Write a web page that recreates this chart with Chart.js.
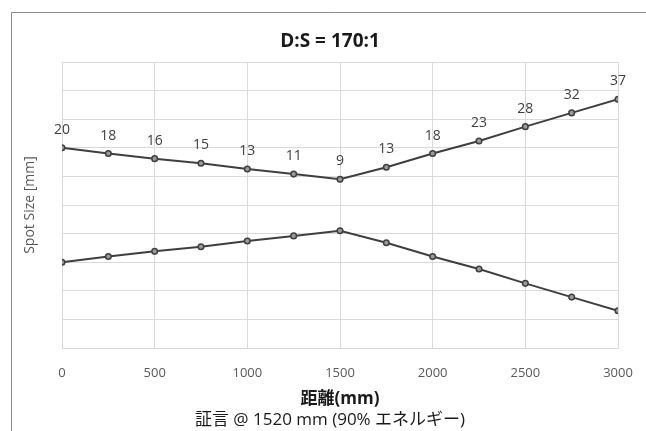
<!DOCTYPE html>
<html>
<head>
<meta charset="utf-8">
<script src="https://cdn.jsdelivr.net/npm/chart.js@4/dist/chart.umd.min.js"></script>
<style>
  html, body { margin: 0; padding: 0; background: #fff; overflow: hidden; }
  #wrap { width: 646px; height: 431px; position: relative; }
</style>
</head>
<body>
<div id="wrap"><canvas id="spotChart"></canvas></div>
<script>
// Расстояние (мм) и размер пятна
const distances = [0, 250, 500, 750, 1000, 1250, 1500, 1750, 2000, 2250, 2500, 2750, 3000];
const spotLabels = [20, 18, 16, 15, 13, 11, 9, 13, 18, 23, 28, 32, 37];
const upperEdge = [10, 9.0, 8.1, 7.3, 6.3, 5.4, 4.5, 6.6, 9.0, 11.2, 13.7, 16.1, 18.5];
const lowerEdge = [-10, -9.0, -8.1, -7.3, -6.3, -5.4, -4.5, -6.6, -9.0, -11.2, -13.7, -16.1, -18.5];
const xTicks = [0, 500, 1000, 1500, 2000, 2500, 3000];

const FONT = '"Open Sans", "Noto Sans CJK JP", sans-serif';
const LINE = '#3f3f3f';
const GRID = '#d9d9d9';

// Рамка вокруг диаграммы
const framePlugin = {
    id: 'frame',
    beforeDraw(chart) {
        const ctx = chart.ctx;
        ctx.save();
        ctx.fillStyle = '#fff';
        ctx.fillRect(0, 0, chart.width, chart.height);
        ctx.strokeStyle = '#8c8c8c';
        ctx.lineWidth = 1;
        ctx.beginPath();
        ctx.moveTo(11.5, chart.height);
        ctx.lineTo(11.5, 12.5);
        ctx.lineTo(chart.width, 12.5);
        ctx.stroke();
        ctx.restore();
    }
};

// Подписи значений над верхней линией
const valueLabels = {
    id: 'valueLabels',
    afterDatasetsDraw(chart) {
        const ctx = chart.ctx;
        const meta = chart.getDatasetMeta(0);
        ctx.save();
        ctx.font = '14px ' + FONT;
        ctx.fillStyle = '#404040';
        ctx.textAlign = 'center';
        ctx.textBaseline = 'middle';
        meta.data.forEach((pt, i) => {
            ctx.fillText(String(spotLabels[i]), pt.x, pt.y - 18);
        });
        ctx.restore();
    }
};

const toPoints = arr => arr.map((v, i) => ({ x: distances[i], y: v }));

const lineStyle = {
    borderColor: LINE,
    borderWidth: 2,
    pointRadius: 2.8,
    pointBorderWidth: 1.5,
    pointBorderColor: LINE,
    pointBackgroundColor: '#9a9a9a',
    tension: 0,
    fill: false
};

new Chart(document.getElementById('spotChart'), {
    type: 'line',
    data: {
        datasets: [
            Object.assign({ label: 'upper', data: toPoints(upperEdge) }, lineStyle),
            Object.assign({ label: 'lower', data: toPoints(lowerEdge) }, lineStyle)
        ]
    },
    options: {
        responsive: true,
        maintainAspectRatio: false,
        animation: false,
        layout: { padding: { left: 14, top: 12, right: 0, bottom: 0 } },
        plugins: {
            legend: { display: false },
            tooltip: { enabled: false },
            title: {
                display: true,
                text: 'D:S = 170:1',
                color: '#1a1a1a',
                font: { family: FONT, size: 19, weight: 'bold' },
                padding: { top: 18.6, bottom: 8.6 }
            },
            subtitle: {
                display: true,
                position: 'bottom',
                text: '証言 @ 1520 mm (90% エネルギー)',
                color: '#1a1a1a',
                font: { family: FONT, size: 17 },
                padding: { top: 0, bottom: 1 }
            }
        },
        scales: {
            x: {
                type: 'linear',
                min: 0,
                max: 3000,
                afterBuildTicks(scale) {
                    scale.ticks = xTicks.map(v => ({ value: v }));
                },
                afterFit(scale) {
                    scale.height = 61.6;
                },
                grid: { color: GRID, tickLength: 15, tickColor: 'rgba(0,0,0,0)' },
                border: { color: GRID },
                ticks: {
                    color: '#595959',
                    font: { family: FONT, size: 13 },
                    padding: 2,
                    maxRotation: 0,
                    callback: v => String(v)
                },
                title: {
                    display: true,
                    text: '距離(mm)',
                    color: '#1a1a1a',
                    font: { family: FONT, size: 17, weight: 'bold' },
                    padding: { top: 0, bottom: 0 }
                }
            },
            y: {
                min: -25,
                max: 25,
                afterFit(scale) {
                    scale.width = 48;
                },
                grid: { color: GRID, drawTicks: false },
                border: { color: GRID },
                ticks: { stepSize: 5, display: false },
                title: {
                    display: true,
                    text: 'Spot Size [mm]',
                    color: '#595959',
                    font: { family: FONT, size: 14 },
                    padding: { top: 7.6, bottom: 0 }
                }
            },
            // Пустая ось справа — отступ области построения
            yRight: {
                position: 'right',
                afterFit(scale) {
                    scale.width = 28;
                },
                grid: { display: false },
                border: { display: false },
                ticks: { display: false }
            }
        }
    },
    plugins: [framePlugin, valueLabels]
});
</script>
</body>
</html>
